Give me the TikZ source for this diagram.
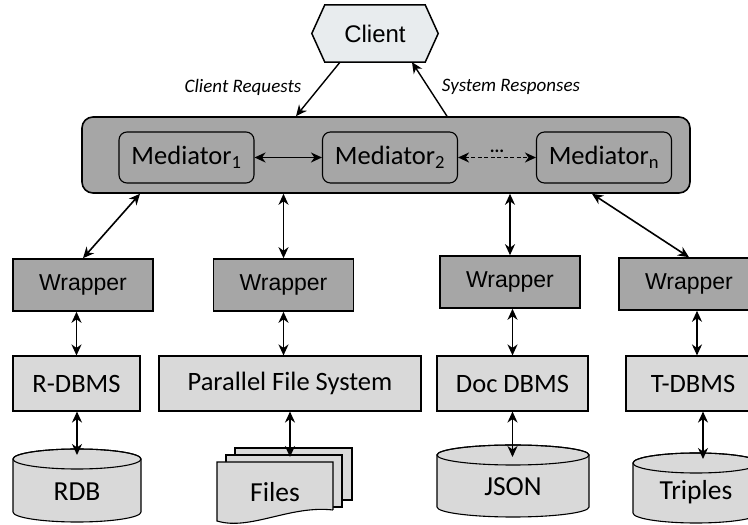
\documentclass[tikz,border=0pt]{standalone}
\usepackage{fontspec}
\setmainfont{Carlito}
\newfontfamily\arialfont{Liberation Sans}
\usetikzlibrary{arrows.meta,backgrounds}
\definecolor{darkfill}{HTML}{A6A6A6}
\definecolor{lightfill}{HTML}{D9D9D9}
\definecolor{clientfill}{HTML}{E8ECEE}
%storage drum: left, right, top centre, bottom centre
\def\drum#1#2#3#4{%
  \filldraw[fill=lightfill,line width=1.1pt] (#1,#3) -- (#1,#4)
    arc[start angle=180,end angle=360,x radius={(#2-#1)/2},y radius=10]
    -- (#2,#3) arc[start angle=0,end angle=180,x radius={(#2-#1)/2},y radius=10] -- cycle;
  \draw[line width=1.1pt] ({(#1+#2)/2},#3) ellipse[x radius={(#2-#1)/2},y radius=10];}

\begin{document}
\begin{tikzpicture}[x=1pt,y=1pt,
  medbox/.style={draw,line width=1.1pt,rounded corners=8pt,fill=darkfill,minimum width=135pt,minimum height=51pt,font=\fontsize{26.5}{30}\selectfont},
  wrapbox/.style={draw,line width=1.6pt,fill=darkfill,minimum width=140pt,minimum height=52pt,font=\arialfont\fontsize{23}{27}\selectfont},
  dbbox/.style={draw,line width=1.1pt,fill=lightfill,minimum height=55pt,font=\fontsize{26.5}{31}\selectfont},
  store/.style={font=\fontsize{27.5}{31}\selectfont},
  note/.style={font=\itshape\fontsize{19}{23}\selectfont},
  link/.style={line width=1.6pt,{Stealth[length=11pt,width=10pt,inset=3.5pt]}-{Stealth[length=11pt,width=10pt,inset=3.5pt]}},
  flow/.style={line width=1.4pt,-{Stealth[length=11pt,width=10pt,inset=3.5pt]}}]
  \useasboundingbox (0,0) rectangle (748,525);
  \clip (0,0) rectangle (748,525);
%client
  \node[font=\arialfont\fontsize{24}{28}\selectfont,minimum width=100pt,minimum height=57pt,inner sep=0] (client) at (375,491.5) {Client};
  \begin{scope}[on background layer]
    \filldraw[fill=clientfill,line width=1.5pt] (client.north west) -- (client.north east) -- ([xshift=13pt]client.east)
      -- (client.south east) -- (client.south west) -- ([xshift=-13pt]client.west) -- cycle;
  \end{scope}
%mediation layer
  \node[draw,line width=1.6pt,rounded corners=11pt,fill=darkfill,minimum width=608pt,minimum height=76pt] (mediation) at (386,370) {};
  \node[medbox] (med1) at (186.5,367.5) {Mediator\textsubscript{1}};
  \node[medbox] (med2) at (390,367.5) {Mediator\textsubscript{2}};
  \node[medbox] (medn) at (604,367.5) {Mediator\textsubscript{n}};
  \draw[link] (med1) -- (med2);
  \draw[link,dash pattern=on 4pt off 2.5pt] (med2) -- (medn) node[midway,above=4pt,inner sep=0,font=\bfseries\fontsize{18}{20}\selectfont] (dots) {...};
  \node[note] (req) at (243,438) {Client Requests};
  \node[note] (resp) at (511,438) {System Responses};
  \draw[flow] ([xshift=-35pt]client.south) -- ([xshift=-90pt]mediation.north);
  \draw[flow] ([xshift=61pt]mediation.north) -- ([xshift=37pt]client.south);
%wrappers
  \node[wrapbox] (wrap1) at (83,240) {Wrapper};
  \node[wrapbox] (wrap2) at (283.5,240) {Wrapper};
  \node[wrapbox] (wrap3) at (510,243) {Wrapper};
  \node[wrapbox] (wrap4) at (689,241) {Wrapper};
  \draw[link] ([xshift=-246pt]mediation.south) -- (wrap1.north);
  \draw[link] (wrap2.north |- mediation.south) -- (wrap2.north);
  \draw[link] (wrap3.north |- mediation.south) -- (wrap3.north);
  \draw[link] ([xshift=206pt]mediation.south) -- (wrap4.north);
%data managers
  \node[dbbox,minimum width=127pt] (rdbms) at (76.5,141.5) {R-DBMS};
  \node[dbbox,minimum width=262pt] (pfs) at (290,141.5) {Parallel File System};
  \node[dbbox,minimum width=151pt] (docdbms) at (512.5,141.5) {Doc DBMS};
  \node[dbbox,minimum width=134pt] (tdbms) at (693,141.5) {T-DBMS};
  \draw[link] (rdbms.north) -- (rdbms.north |- wrap1.south);
  \draw[link] (wrap2.south) -- (wrap2.south |- pfs.north);
  \draw[link] (docdbms.north) -- (docdbms.north |- wrap3.south);
  \draw[link] ([xshift=4pt]tdbms.north) -- ([xshift=4pt]tdbms.north |- wrap4.south);
%storage
  \drum{13}{141}{66}{13}
  \drum{437}{589}{70}{18}
  \drum{633}{759}{62}{12}
  \filldraw[fill=lightfill,line width=1.1pt] (235,25) rectangle (352,77);
  \filldraw[fill=lightfill,line width=1.1pt] (226,18) rectangle (342,70);
  \filldraw[fill=lightfill,line width=1.1pt] (333,15) -- (333,63) -- (217,63) -- (217,4) .. controls (250,-6) and (290,20) .. (333,15);
  \node[store] (rdb) at (77,33) {RDB};
  \node[store] (files) at (275,33) {Files};
  \node[store] (json) at (513,38) {JSON};
  \node[store] (triples) at (696,33) {Triples};
  \coordinate (rdbtop) at (77,70);
  \coordinate (filestop) at (290,68);
  \coordinate (jsontop) at (512.5,68);
  \coordinate (triplestop) at (703,66);
  \draw[link] (rdbtop |- rdbms.south) -- (rdbtop);
  \draw[link] (filestop |- pfs.south) -- (filestop);
  \draw[link] (jsontop |- docdbms.south) -- (jsontop);
  \draw[link] (triplestop |- tdbms.south) -- (triplestop);
\end{tikzpicture}
\end{document}
